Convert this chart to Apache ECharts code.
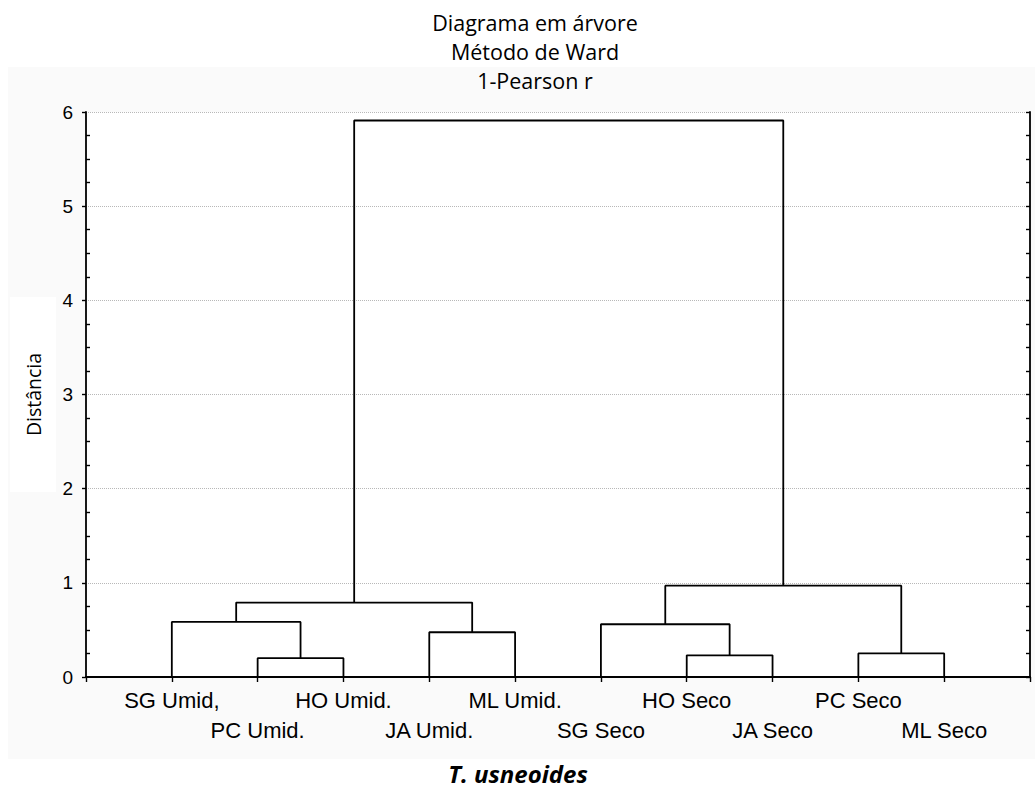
<!DOCTYPE html>
<html>
<head>
<meta charset="utf-8">
<script src="https://cdn.jsdelivr.net/npm/echarts@6/dist/echarts.min.js"></script>
<style>
html,body{margin:0;padding:0;background:#fff;}
#chart{width:1035px;height:791px;}
</style>
</head>
<body>
<div id="chart"></div>
<script>
// Leaves in dendrogram order (left to right)
const leafLabels = ['SG Umid,', 'PC Umid.', 'HO Umid.', 'JA Umid.', 'ML Umid.', 'SG Seco', 'HO Seco', 'JA Seco', 'PC Seco', 'ML Seco'];
// Merges: node ids 0..9 are leaves, 10.. are clusters created in this order
const mergeA = [1, 0, 3, 11, 6, 5, 8, 15, 13];
const mergeB = [2, 10, 4, 12, 7, 14, 9, 16, 17];
const mergeHeight = [0.20, 0.585, 0.475, 0.79, 0.23, 0.56, 0.25, 0.97, 5.91];
const yTickValues = [0, 1, 2, 3, 4, 5, 6];
const titleLines = ['Diagrama em árvore', 'Método de Ward', '1-Pearson r'];
const yAxisTitle = 'Distância';
const captionText = 'T. usneoides';

// build node positions (leaf position = index + 1)
const nodeX = leafLabels.map((_, i) => i + 1);
const nodeH = leafLabels.map(() => 0);
mergeA.forEach((a, k) => {
  const b = mergeB[k];
  nodeX.push((nodeX[a] + nodeX[b]) / 2);
  nodeH.push(mergeHeight[k]);
});

const linkSeries = mergeA.map((a, k) => {
  const b = mergeB[k];
  const h = mergeHeight[k];
  return {
    type: 'line',
    xAxisIndex: 0,
    yAxisIndex: 0,
    symbol: 'none',
    silent: true,
    animation: false,
    lineStyle: { color: '#000', width: 1.8 },
    data: [[nodeX[a], nodeH[a]], [nodeX[a], h], [nodeX[b], h], [nodeX[b], nodeH[b]]]
  };
});

const chart = echarts.init(document.getElementById('chart'), null, { renderer: 'svg' });
const axisFont = "'Liberation Sans', Arial, sans-serif";
const titleFont = "'Open Sans', Lato, sans-serif";
const yMin = yTickValues[0], yMax = yTickValues[yTickValues.length - 1];

chart.setOption({
  animation: false,
  backgroundColor: '#ffffff',
  title: [{
    text: titleLines.join('\n'),
    left: 535,
    top: 8,
    padding: 0,
    textAlign: 'center',
    textStyle: { fontFamily: titleFont, fontSize: 21.5, fontWeight: 'normal', color: '#000', lineHeight: 29 }
  }, {
    text: captionText,
    left: 518,
    top: 760,
    padding: 0,
    textAlign: 'center',
    textStyle: { fontFamily: titleFont, fontSize: 24, fontWeight: 'bold', fontStyle: 'italic', color: '#000', lineHeight: 27 }
  }],
  graphic: [{
    type: 'rect', z: -10, silent: true,
    shape: { x: 8, y: 67, width: 1027, height: 692 },
    style: { fill: '#fafafa' }
  }, {
    type: 'rect', z: -9, silent: true,
    shape: { x: 10, y: 297, width: 46, height: 195 },
    style: { fill: '#ffffff' }
  }],
  grid: { left: 86, right: 5, top: 112, bottom: 114, show: true, backgroundColor: '#ffffff', borderWidth: 0, containLabel: false },
  xAxis: [{
    type: 'value', position: 'bottom', min: 0, max: leafLabels.length + 1, interval: 1,
    axisLine: { show: true, lineStyle: { color: '#000', width: 1.8 } },
    axisTick: { show: false },
    splitLine: { show: false },
    axisLabel: {
      show: true, margin: 9, fontFamily: axisFont, fontSize: 22, color: '#000', lineHeight: 29.5,
      formatter: v => {
        const i = Math.round(v) - 1;
        if (i < 0 || i >= leafLabels.length) return '';
        return i % 2 === 0 ? leafLabels[i] : '\n' + leafLabels[i];
      }
    }
  }, {
    type: 'value', position: 'top', min: 0, max: leafLabels.length + 1, interval: 1,
    axisLine: { show: true, lineStyle: { color: '#000', width: 1.8 } },
    axisTick: { show: true, inside: true, length: 5, lineStyle: { color: '#000', width: 1.4 } },
    splitLine: { show: false },
    axisLabel: { show: false }
  }],
  yAxis: [{
    type: 'value', position: 'left', min: yMin, max: yMax, interval: 1,
    name: yAxisTitle, nameLocation: 'middle', nameRotate: 90, nameGap: 43,
    nameTextStyle: { fontFamily: titleFont, fontSize: 19.5, color: '#000' },
    axisLine: { show: true, lineStyle: { color: '#000', width: 1.8 } },
    axisTick: { show: true, inside: false, length: 4, lineStyle: { color: '#000', width: 1.4 } },
    splitLine: { show: true, lineStyle: { color: '#b8b8b8', type: 'dotted', width: 1 } },
    axisLabel: { show: true, margin: 13, fontFamily: axisFont, fontSize: 19, color: '#000' }
  }, {
    type: 'value', position: 'left', min: yMin, max: yMax, interval: 1,
    axisLine: { show: false },
    axisTick: { show: false, inside: true },
    minorTick: { show: true, splitNumber: 4, length: 4, lineStyle: { color: '#000', width: 1.4 } },
    splitLine: { show: false },
    axisLabel: { show: false }
  }, {
    type: 'value', position: 'right', min: yMin, max: yMax, interval: 0.25,
    axisLine: { show: true, lineStyle: { color: '#000', width: 1.8 } },
    axisTick: { show: true, inside: true, length: 4, lineStyle: { color: '#000', width: 1.4 } },
    splitLine: { show: false },
    axisLabel: { show: false }
  }],
  series: linkSeries
});
</script>
</body>
</html>
